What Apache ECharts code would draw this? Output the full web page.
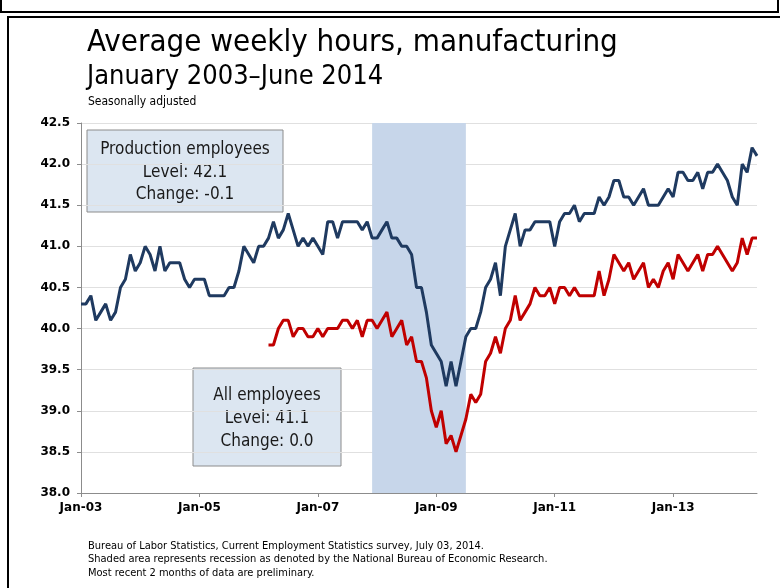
<!DOCTYPE html>
<html>
<head>
<meta charset="utf-8">
<script src="https://cdn.jsdelivr.net/npm/echarts@6/dist/echarts.min.js"></script>
<style>
  html, body { margin: 0; padding: 0; background: #fff; }
  #chart { width: 780px; height: 588px; }
</style>
</head>
<body>
<div id="chart"></div>
<script>
// months Jan 2003 .. Jun 2014
const monthNames = ['Jan', 'Feb', 'Mar', 'Apr', 'May', 'Jun', 'Jul', 'Aug', 'Sep', 'Oct', 'Nov', 'Dec']
const firstYear = 2003
const monthCount = 138

// production employees, avg weekly hours
const production = [
  40.3, 40.3, 40.4, 40.1, 40.2, 40.3, 40.1, 40.2, 40.5, 40.6, 40.9, 40.7,
  40.8, 41.0, 40.9, 40.7, 41.0, 40.7, 40.8, 40.8, 40.8, 40.6, 40.5, 40.6,
  40.6, 40.6, 40.4, 40.4, 40.4, 40.4, 40.5, 40.5, 40.7, 41.0, 40.9, 40.8,
  41.0, 41.0, 41.1, 41.3, 41.1, 41.2, 41.4, 41.2, 41.0, 41.1, 41.0, 41.1,
  41.0, 40.9, 41.3, 41.3, 41.1, 41.3, 41.3, 41.3, 41.3, 41.2, 41.3, 41.1,
  41.1, 41.2, 41.3, 41.1, 41.1, 41.0, 41.0, 40.9, 40.5, 40.5, 40.2, 39.8,
  39.7, 39.6, 39.3, 39.6, 39.3, 39.6, 39.9, 40.0, 40.0, 40.2, 40.5, 40.6,
  40.8, 40.4, 41.0, 41.2, 41.4, 41.0, 41.2, 41.2, 41.3, 41.3, 41.3, 41.3,
  41.0, 41.3, 41.4, 41.4, 41.5, 41.3, 41.4, 41.4, 41.4, 41.6, 41.5, 41.6,
  41.8, 41.8, 41.6, 41.6, 41.5, 41.6, 41.7, 41.5, 41.5, 41.5, 41.6, 41.7,
  41.6, 41.9, 41.9, 41.8, 41.8, 41.9, 41.7, 41.9, 41.9, 42.0, 41.9, 41.8,
  41.6, 41.5, 42.0, 41.9, 42.2, 42.1
]

// all employees, series starts March 2006
const allEmployees = [
  null, null, null, null, null, null, null, null, null, null, null, null,
  null, null, null, null, null, null, null, null, null, null, null, null,
  null, null, null, null, null, null, null, null, null, null, null, null,
  null, null, 39.8, 39.8, 40.0, 40.1, 40.1, 39.9, 40.0, 40.0, 39.9, 39.9,
  40.0, 39.9, 40.0, 40.0, 40.0, 40.1, 40.1, 40.0, 40.1, 39.9, 40.1, 40.1,
  40.0, 40.1, 40.2, 39.9, 40.0, 40.1, 39.8, 39.9, 39.6, 39.6, 39.4, 39.0,
  38.8, 39.0, 38.6, 38.7, 38.5, 38.7, 38.9, 39.2, 39.1, 39.2, 39.6, 39.7,
  39.9, 39.7, 40.0, 40.1, 40.4, 40.1, 40.2, 40.3, 40.5, 40.4, 40.4, 40.5,
  40.3, 40.5, 40.5, 40.4, 40.5, 40.4, 40.4, 40.4, 40.4, 40.7, 40.4, 40.6,
  40.9, 40.8, 40.7, 40.8, 40.6, 40.7, 40.8, 40.5, 40.6, 40.5, 40.7, 40.8,
  40.6, 40.9, 40.8, 40.7, 40.8, 40.9, 40.7, 40.9, 40.9, 41.0, 40.9, 40.8,
  40.7, 40.8, 41.1, 40.9, 41.1, 41.1
]

// NBER recession Dec 2007 - Jun 2009 (shade runs to the edge of Jun)
const recession = ['Dec-07', 'Jul-09']
const yTicks = [38.0, 38.5, 39.0, 39.5, 40.0, 40.5, 41.0, 41.5, 42.0, 42.5]

const categories = []
for (let i = 0; i < monthCount; i++) {
    const y = firstYear + Math.floor(i / 12)
    categories.push(monthNames[i % 12] + '-' + String(y).slice(2))
}

const chart = echarts.init(document.getElementById('chart'))

const boxStyle = {fill: '#dce6f1', stroke: '#8c8c8c', lineWidth: 1}
const boxText = {fontFamily: 'DejaVu Sans Condensed', fontSize: 17, fill: '#1a1a1a', align: 'center'}

function infoBox(x, y, w, h, lines, lineGap) {
    const children = [{type: 'rect', shape: {x: 0, y: 0, width: w, height: h}, style: boxStyle}]
    lines.forEach((t, i) => {
        children.push({
            type: 'text',
            x: w / 2,
            y: lineGap.top + i * lineGap.step,
            style: Object.assign({text: t, verticalAlign: 'middle'}, boxText)
        })
    })
    return {type: 'group', x, y, z: 100, children}
}

const option = {
    animation: false,
    backgroundColor: '#fff',
    grid: {left: 81, right: 23, top: 123, bottom: 95, containLabel: false},
    xAxis: {
        type: 'category',
        data: categories,
        boundaryGap: false,
        axisLine: {lineStyle: {color: '#8c8c8c', width: 1}},
        axisTick: {interval: 23, length: 4, lineStyle: {color: '#8c8c8c'}},
        axisLabel: {
            interval: 23,
            margin: 9,
            color: '#000',
            fontWeight: 'bold',
            fontFamily: 'DejaVu Sans',
            fontSize: 12
        },
        splitLine: {show: false}
    },
    yAxis: {
        type: 'value',
        min: yTicks[0],
        max: yTicks[yTicks.length - 1],
        interval: 0.5,
        axisLine: {show: true, lineStyle: {color: '#8c8c8c', width: 1}},
        axisTick: {show: true, length: 4, lineStyle: {color: '#8c8c8c'}},
        axisLabel: {
            margin: 11,
            color: '#000',
            fontWeight: 'bold',
            fontFamily: 'DejaVu Sans',
            fontSize: 12,
            formatter: v => v.toFixed(1)
        },
        splitLine: {lineStyle: {color: '#e0e0e0', width: 1}}
    },
    series: [
        {
            name: 'Production employees',
            type: 'line',
            data: production,
            showSymbol: false,
            lineStyle: {color: '#1f3a60', width: 3},
            z: 3,
            markArea: {
                silent: true,
                itemStyle: {color: '#c7d6ea'},
                data: [[{xAxis: recession[0]}, {xAxis: recession[1]}]]
            }
        },
        {
            name: 'All employees',
            type: 'line',
            data: allEmployees,
            showSymbol: false,
            connectNulls: false,
            lineStyle: {color: '#c00000', width: 3},
            z: 3
        }
    ],
    graphic: [
        // frames
        {type: 'rect', shape: {x: 1, y: -20, width: 777, height: 32}, style: {fill: 'none', stroke: '#000', lineWidth: 2}},
        {type: 'rect', shape: {x: 8, y: 17, width: 790, height: 600}, style: {fill: 'none', stroke: '#000', lineWidth: 2}},
        // titles
        {type: 'text', left: 87, top: 27, style: {text: 'Average weekly hours, manufacturing', fontFamily: 'DejaVu Sans Condensed', fontSize: 31, fill: '#000'}},
        {type: 'text', left: 87, top: 63, style: {text: 'January 2003\u2013June 2014', fontFamily: 'DejaVu Sans Condensed', fontSize: 27, fill: '#000'}},
        {type: 'text', left: 88, top: 96, style: {text: 'Seasonally adjusted', fontFamily: 'DejaVu Sans Condensed', fontSize: 12, fill: '#000'}},
        // value boxes
        infoBox(87, 130, 196, 82, ['Production employees', 'Level: 42.1', 'Change: -0.1'], {top: 20, step: 22.5}),
        infoBox(193, 368, 148, 98, ['All employees', 'Level: 41.1', 'Change: 0.0'], {top: 28, step: 23}),
        // notes
        {type: 'text', left: 88, top: 539, style: {
            text: 'Bureau of Labor Statistics, Current Employment Statistics survey, July 03, 2014.\nShaded area represents recession as denoted by the National Bureau of Economic Research.\nMost recent 2 months of data are preliminary.',
            fontFamily: 'DejaVu Sans Condensed', fontSize: 11, lineHeight: 13.5, fill: '#000'}}
    ]
}

chart.setOption(option)
</script>
</body>
</html>
